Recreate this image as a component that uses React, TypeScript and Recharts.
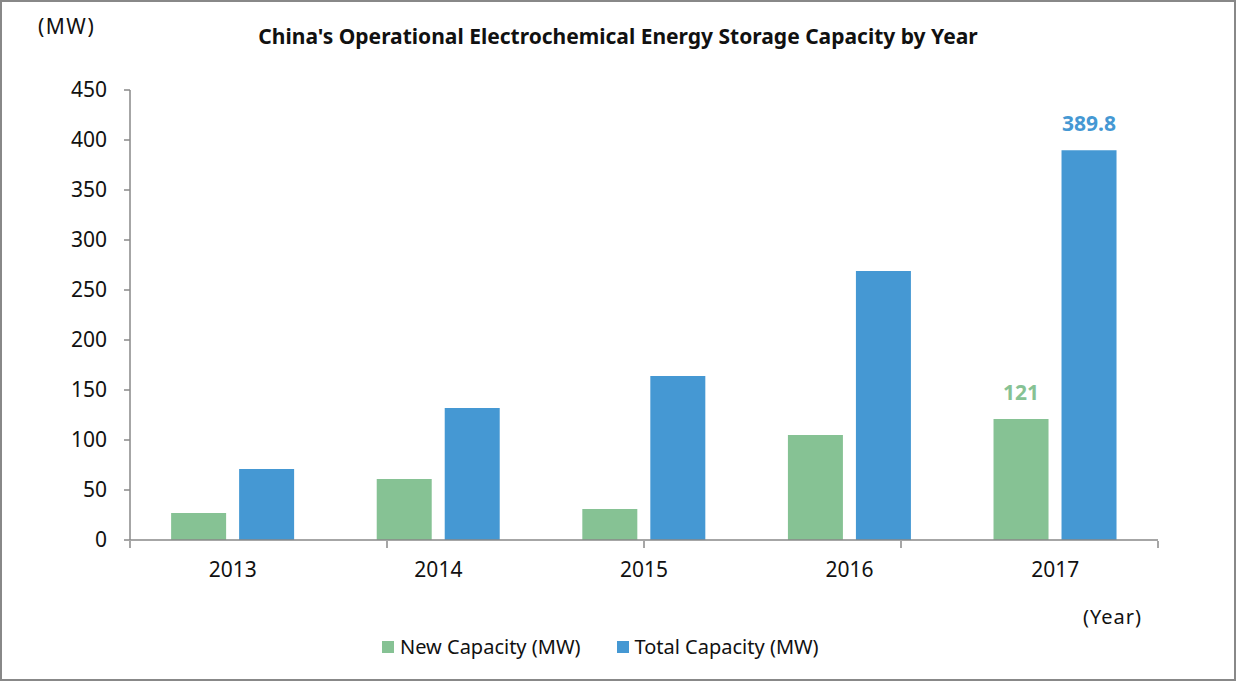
import React from 'react';
import { BarChart, Bar, XAxis, YAxis, LabelList } from 'recharts';

const years = ['2013', '2014', '2015', '2016', '2017'];
const newCapacity = [27, 61, 31, 105, 121];
const totalCapacity = [71, 132, 164, 269, 389.8];
const newLabels = ['', '', '', '', '121'];
const totalLabels = ['', '', '', '', '389.8'];
const yTicks = [0, 50, 100, 150, 200, 250, 300, 350, 400, 450];
const boundaryTicks = [0, 1, 2, 3, 4, 5];
const seriesNames = ['New Capacity (MW)', 'Total Capacity (MW)'];

const GREEN = '#86C294';
const BLUE = '#4598D3';
const AXIS = '#898989';
const FONT = '"Noto Sans", "Open Sans", sans-serif';

const data = years.map((y, i) => ({
  year: y,
  newCap: newCapacity[i],
  totalCap: totalCapacity[i],
  newLabel: newLabels[i],
  totalLabel: totalLabels[i],
}));

const EmptyTick = () => <g />;

export default function App() {
  return (
    <div style={{ position: 'absolute', left: 0, top: 0, width: 1236, height: 681, background: '#fff', fontFamily: FONT }}>
      <BarChart
        width={1236}
        height={681}
        data={data}
        margin={{ top: 90, right: 78, bottom: 139, left: 0 }}
        barCategoryGap="20%"
        barGap={13}
      >
        <YAxis
          width={130}
          domain={[0, 450]}
          ticks={yTicks}
          interval={0}
          tickSize={6}
          tickMargin={17}
          axisLine={{ stroke: AXIS, strokeWidth: 1.5 }}
          tickLine={{ stroke: AXIS, strokeWidth: 1.5 }}
          tick={{ fontSize: 21, fill: '#111', fontFamily: FONT }}
        />
        <XAxis
          dataKey="year"
          height={1}
          tickSize={0}
          tickMargin={22}
          tickLine={false}
          axisLine={{ stroke: AXIS, strokeWidth: 1.5 }}
          tick={{ fontSize: 21, fill: '#111', fontFamily: FONT }}
        />
        <XAxis
          xAxisId="b"
          type="number"
          domain={[0, 5]}
          allowDataOverflow
          ticks={boundaryTicks}
          interval={0}
          height={1}
          tickSize={7}
          tick={EmptyTick}
          axisLine={false}
          tickLine={{ stroke: AXIS, strokeWidth: 1.5 }}
        />
        <Bar dataKey="newCap" name={seriesNames[0]} fill={GREEN} isAnimationActive={false}>
          <LabelList dataKey="newLabel" position="top" offset={19} fill={GREEN} fontSize={21} fontWeight="bold" fontFamily={FONT} />
        </Bar>
        <Bar dataKey="totalCap" name={seriesNames[1]} fill={BLUE} isAnimationActive={false}>
          <LabelList dataKey="totalLabel" position="top" offset={19} fill={BLUE} fontSize={21} fontWeight="bold" fontFamily={FONT} />
        </Bar>
      </BarChart>
      <div style={{ position: 'absolute', left: 0, top: 22, width: 1236, textAlign: 'center', fontSize: 21, fontWeight: 'bold', color: '#111' }}>
        China's Operational Electrochemical Energy Storage Capacity by Year
      </div>
      <div style={{ position: 'absolute', left: 38, top: 12, fontSize: 21, letterSpacing: 1.5, color: '#111' }}>(MW)</div>
      <div style={{ position: 'absolute', left: 1083, top: 603, fontSize: 20, letterSpacing: 1, color: '#111' }}>(Year)</div>
      <div style={{ position: 'absolute', left: 382, top: 633, display: 'flex', alignItems: 'center', fontSize: 20, color: '#111', lineHeight: '28px' }}>
        <span style={{ width: 12, height: 12, background: GREEN, display: 'inline-block', marginRight: 6 }} />
        <span style={{ marginRight: 36 }}>{seriesNames[0]}</span>
        <span style={{ width: 12, height: 12, background: BLUE, display: 'inline-block', marginRight: 6 }} />
        <span>{seriesNames[1]}</span>
      </div>
      <div style={{ position: 'absolute', left: 0, top: 0, width: 1236, height: 681, border: '2px solid #888', boxSizing: 'border-box', pointerEvents: 'none' }} />
    </div>
  );
}
